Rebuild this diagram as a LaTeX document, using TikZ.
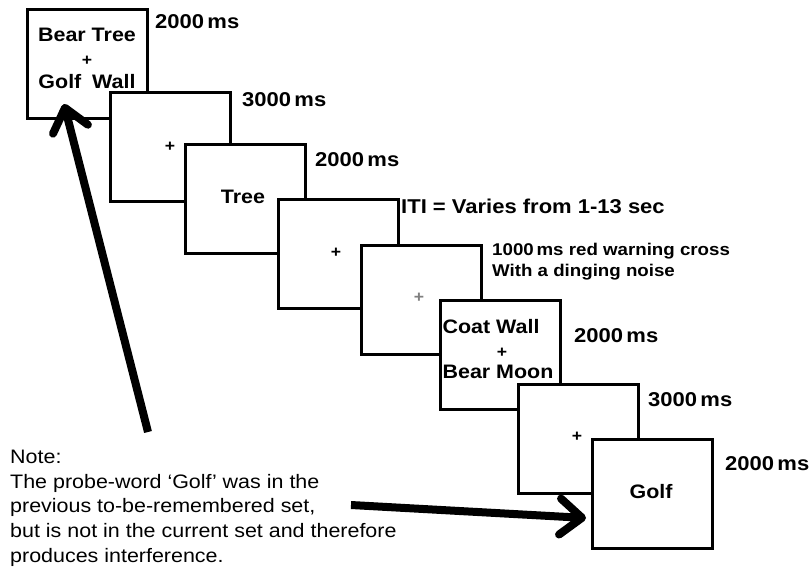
\documentclass[tikz,border=0pt]{standalone}
\usepackage{fontspec}
\setmainfont[FakeStretch=1.1]{Liberation Sans}
\usetikzlibrary{arrows.meta}
\begin{document}
\begin{tikzpicture}[x=1pt,y=-1pt,
  scr/.style={draw, line width=3pt, fill=white, minimum width=120pt, minimum height=109pt, inner sep=0pt, anchor=north west},
  lab/.style={font=\bfseries\fontsize{20}{22}\selectfont, anchor=west, inner sep=0pt},
  small/.style={font=\bfseries\fontsize{17}{21}\selectfont, anchor=west, inner sep=0pt, align=left},
  word/.style={font=\bfseries\fontsize{19.5}{22}\selectfont, inner sep=0pt},
  fix/.style={font=\bfseries\fontsize{16}{16}\selectfont, inner sep=0pt},
  note/.style={font=\fontsize{19.5}{24.6}\selectfont, anchor=north west, inner sep=0pt, align=left},
  bigarrow/.style={line width=8pt, -{Straight Barb[length=22pt,width=36pt,round]}}
]
\useasboundingbox (0,0) rectangle (811,573);
% screens
\node[scr] (s1) at (26,8) {};
\node[scr] (s2) at (109,91) {};
\node[scr] (s3) at (184,143) {};
\node[scr] (s4) at (277,198) {};
\node[scr] (s5) at (360,244) {};
\node[scr] (s6) at (439,299) {};
\node[scr] (s7) at (517,383) {};
\node[scr] (s8) at (591,438) {};
% screen contents
\node[word] (w1a) at (87,35) {Bear Tree};
\node[fix]  (f1)  at (87,61) {+};
\node[word] (w1b) at (87,82) {Golf\hspace{0.25em} Wall};
\node[fix]  (f2)  at (170,147) {+};
\node[word] (w3)  at (243,197) {Tree};
\node[fix]  (f4)  at (336,253) {+};
\node[fix, text=gray] (f5) at (419,298) {+};
\node[word] (w6a) at (491,327) {Coat Wall};
\node[fix]  (f6)  at (502,353) {+};
\node[word] (w6b) at (498,372) {Bear Moon};
\node[fix]  (f7)  at (577,437) {+};
\node[word] (w8)  at (651,492) {Golf};
% timing labels
\node[lab] (t1) at (155,22) {2000\,ms};
\node[lab] (t2) at (242,100) {3000\,ms};
\node[lab] (t3) at (315,160) {2000\,ms};
\node[lab] (t4) at (401,206) {ITI = Varies from 1-13 sec};
\node[small] (t5) at (492,261.5) {1000\,ms red warning cross\\With a dinging noise};
\node[lab] (t6) at (574,336) {2000\,ms};
\node[lab] (t7) at (648,400) {3000\,ms};
\node[lab] (t8) at (725,464) {2000\,ms};
% note
\node[note] (nt) at (10,450) {Note:\\The probe-word `Golf' was in the\\previous to-be-remembered set,\\but is not in the current set and therefore\\produces interference.};
% arrows
\coordinate (a1s) at (148,432);
\coordinate (a1e) at (64,104);
\coordinate (a2s) at (351,505);
\coordinate (a2e) at (586,518);
\draw[bigarrow] (a1s) -- (a1e);
\draw[bigarrow] (a2s) -- (a2e);
\end{tikzpicture}
\end{document}
